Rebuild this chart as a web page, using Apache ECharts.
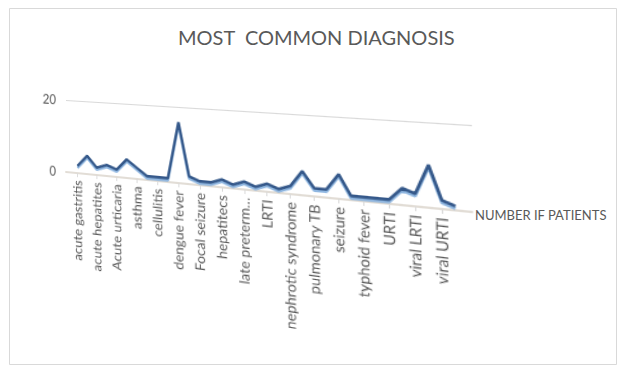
<!DOCTYPE html>
<html>
<head>
<meta charset="utf-8">
<script src="https://cdn.jsdelivr.net/npm/echarts@6.0.0/dist/echarts.min.js"></script>
<style>
  html, body { margin: 0; padding: 0; background: #ffffff; }
  #frame { position: absolute; left: 0; top: 0; width: 625px; height: 375px; }
  #plot { position: absolute; left: 0; top: 0; width: 625px; height: 375px; transform-origin: 0 0; }
</style>
</head>
<body>
<div id="frame"></div>
<div id="plot"></div>
<script>
// Diagnoses (alphabetical) and patient counts
const categories = [
  'acute gastritis', 'acute gastroenteritis', 'acute hepatites', 'acute otitis media',
  'Acute urticaria', 'anemia', 'asthma', 'bronchiolitis', 'cellulitis', 'croup',
  'dengue fever', 'febrile seizure', 'Focal seizure', 'gastroenteritis', 'hepatitecs',
  'hypoglycemia', 'late preterm\u2026', 'leptospirosis', 'LRTI', 'malaria',
  'nephrotic syndrome', 'pneumonia', 'pulmonary TB', 'rheumatic fever', 'seizure',
  'sepsis', 'typhoid fever', 'urinary tract infection', 'URTI', 'UTI',
  'viral LRTI', 'viral pneumonia', 'viral URTI', 'wheezing'
];
const patients = [
  2, 5, 2, 3, 2, 5, 3, 1, 1, 1,
  16, 2, 1, 1, 2, 1, 2, 1, 2, 1,
  2, 6, 2, 2, 6, 1, 1, 1, 1, 4,
  3, 10, 2, 1
];
const seriesName = 'NUMBER IF PATIENTS';
const chartTitle = 'MOST  COMMON DIAGNOSIS';
const yTicks = [0, 20];

const FONT = 'Lato, "Open Sans", sans-serif';
const TEXT = '#595959';

// every other diagnosis gets a label, as on the axis
const labelledIdx = categories.map((_, i) => i).filter(i => i % 2 === 0);

// ---- plot area (drawn flat, then tilted into perspective) ----
const GRID = { left: 66, top: 100, width: 370, height: 72 };

const plot = echarts.init(document.getElementById('plot'), null, { renderer: 'svg' });
plot.setOption({
  animation: false,
  backgroundColor: 'transparent',
  grid: { left: GRID.left, top: GRID.top, width: GRID.width, height: GRID.height, containLabel: false },
  xAxis: {
    type: 'value',
    min: -1.2,
    max: categories.length - 1 + 1.2,
    axisLine: { show: true, lineStyle: { color: '#E2DDD6', width: 2 } },
    axisTick: { show: true, customValues: labelledIdx, length: 4, lineStyle: { color: '#DADADA' } },
    splitLine: { show: false },
    axisLabel: {
      customValues: labelledIdx,
      rotate: 90,
      margin: 7,
      fontSize: 13,
      fontFamily: FONT,
      color: TEXT,
      formatter: v => categories[Math.round(v)]
    }
  },
  yAxis: {
    type: 'value',
    min: yTicks[0],
    max: yTicks[1],
    interval: yTicks[1] - yTicks[0],
    axisLine: { show: false },
    axisTick: { show: false },
    splitLine: { show: true, lineStyle: { color: '#D9D9D9', width: 1 } },
    axisLabel: { margin: 11, fontSize: 13, fontFamily: FONT, color: TEXT }
  },
  series: [{
    name: seriesName,
    type: 'line',
    data: patients.map((v, i) => [i, v]),
    symbol: 'none',
    z: 5,
    lineStyle: {
      color: '#34598A',
      width: 2.6,
      shadowColor: 'rgba(125,170,220,0.85)',
      shadowOffsetY: 2,
      shadowBlur: 1
    }
  }]
});

// Projective warp: plot rectangle -> receding floor/wall quad
function homography(src, dst) {
  const A = [], b = [];
  for (let i = 0; i < 4; i++) {
    const [x, y] = src[i], [u, v] = dst[i];
    A.push([x, y, 1, 0, 0, 0, -u * x, -u * y]); b.push(u);
    A.push([0, 0, 0, x, y, 1, -v * x, -v * y]); b.push(v);
  }
  const n = 8;
  for (let c = 0; c < n; c++) {
    let p = c;
    for (let r = c + 1; r < n; r++) if (Math.abs(A[r][c]) > Math.abs(A[p][c])) p = r;
    [A[c], A[p]] = [A[p], A[c]]; [b[c], b[p]] = [b[p], b[c]];
    for (let r = 0; r < n; r++) {
      if (r === c) continue;
      const f = A[r][c] / A[c][c];
      for (let k = c; k < n; k++) A[r][k] -= f * A[c][k];
      b[r] -= f * b[c];
    }
  }
  const h = b.map((val, i) => val / A[i][i]);
  return [...h, 1];
}
const L = GRID.left, T = GRID.top, R = GRID.left + GRID.width, B = GRID.top + GRID.height;
const H = homography(
  [[L, T], [R, T], [R, B], [L, B]],
  [[66, 100], [472, 125], [472, 212], [66, 172]]
);
document.getElementById('plot').style.transform =
  'matrix3d(' + [H[0], H[3], 0, H[6], H[1], H[4], 0, H[7], 0, 0, 1, 0, H[2], H[5], 0, H[8]].join(',') + ')';

// ---- chart frame, title and series caption ----
const frame = echarts.init(document.getElementById('frame'), null, { renderer: 'svg' });
frame.setOption({
  animation: false,
  backgroundColor: '#ffffff',
  title: [
    { text: chartTitle, left: 173, top: 22,
      textStyle: { fontSize: 20, fontWeight: 'normal', fontFamily: FONT, color: TEXT } },
    { text: seriesName, left: 470, top: 203,
      textStyle: { fontSize: 13, fontWeight: 'normal', fontFamily: FONT, color: TEXT } }
  ],
  graphic: [{
    type: 'rect',
    shape: { x: 9.5, y: 8.5, width: 607, height: 356 },
    style: { fill: 'none', stroke: '#D9D9D9', lineWidth: 1 },
    silent: true
  }]
});
</script>
</body>
</html>
